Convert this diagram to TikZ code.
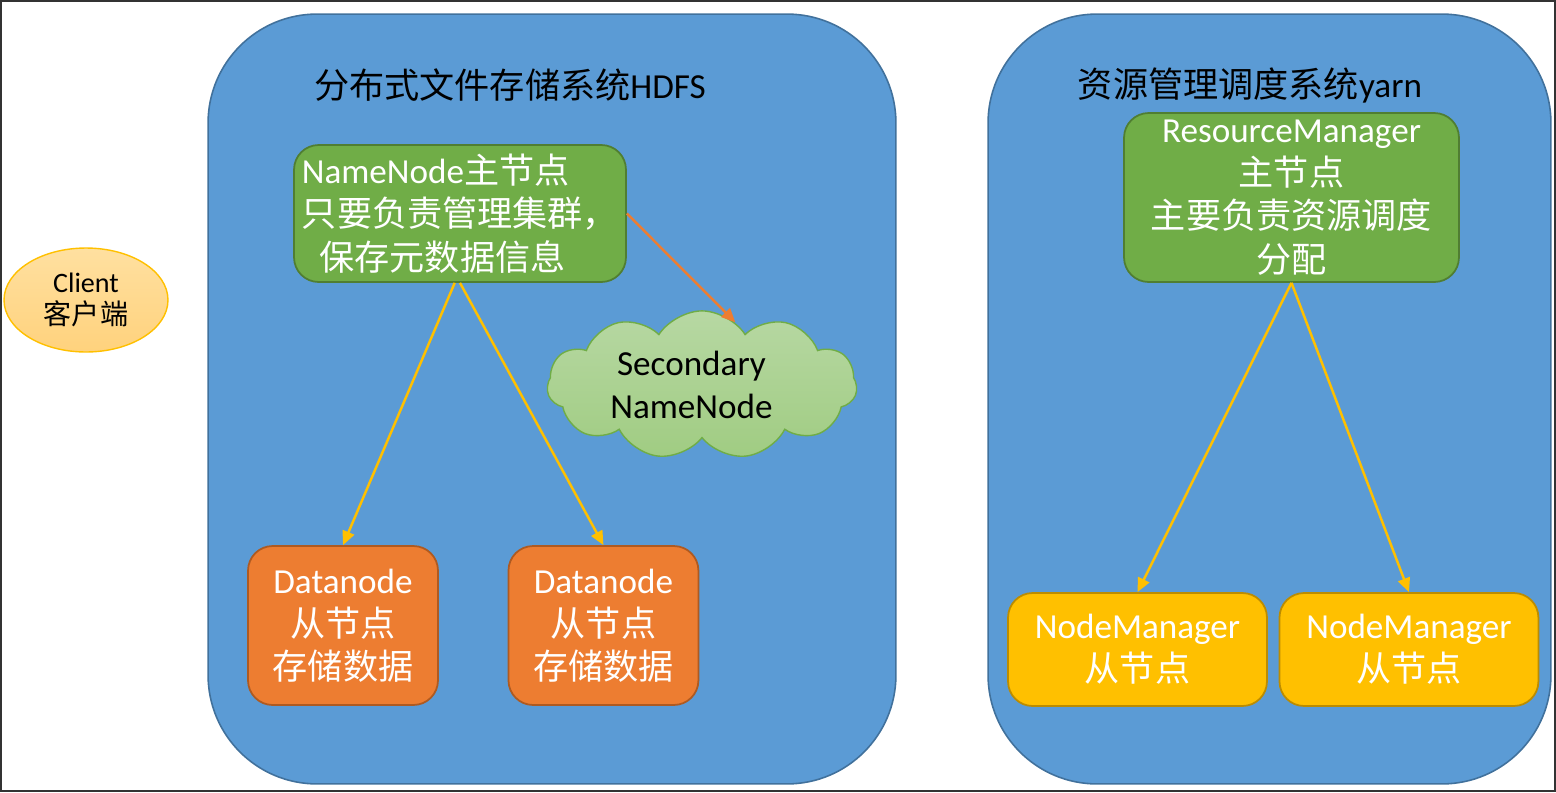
\documentclass[tikz,border=0pt]{standalone}
\usepackage{fontspec}
\setmainfont{Carlito}
\newfontfamily\cjk{Noto Sans CJK SC}
\usepackage{xcolor}
\definecolor{SysBlue}{RGB}{91,155,213}
\definecolor{SysBlueEdge}{RGB}{65,113,156}
\definecolor{MasterGreen}{RGB}{112,173,71}
\definecolor{MasterGreenEdge}{RGB}{80,126,50}
\definecolor{DataOrange}{RGB}{237,125,49}
\definecolor{DataOrangeEdge}{RGB}{174,90,33}
\definecolor{NodeGold}{RGB}{255,192,0}
\definecolor{NodeGoldEdge}{RGB}{188,140,0}
\definecolor{CloudTop}{RGB}{183,216,163}
\definecolor{CloudBottom}{RGB}{160,204,130}
\definecolor{ClientTop}{RGB}{255,224,160}
\definecolor{ClientBottom}{RGB}{255,210,125}
\usetikzlibrary{positioning}
\usetikzlibrary{shapes.geometric}
\usetikzlibrary{shapes.symbols}
\usetikzlibrary{arrows.meta}

\begin{document}
\begin{tikzpicture}[
      , x=0.02cm, y=-0.02cm
      , system/.style={rectangle, rounded corners=62pt, draw=SysBlueEdge, fill=SysBlue, line width=0.9pt, minimum height=15.4cm}
      , box/.style={rectangle, rounded corners=14pt, line width=1pt, text=white, inner sep=0pt, font=\fontsize{20}{24.6}\selectfont}
      , master/.style={box, draw=MasterGreenEdge, fill=MasterGreen}
      , datanode/.style={box, draw=DataOrangeEdge, fill=DataOrange, minimum width=3.8cm, minimum height=3.18cm, align=center}
      , nodemgr/.style={box, draw=NodeGoldEdge, fill=NodeGold, minimum width=5.18cm, minimum height=2.26cm, align=center}
      , title/.style={font=\fontsize{20}{24.6}\selectfont, text=black}
      , link/.style={->, line width=1.4pt, color=NodeGold}
      , on grid
      ]

      \tikzset{>={Triangle[length=8pt,width=7pt]}}

      \useasboundingbox (0,0) rectangle (1556,792);
      \draw[gray!40!black, line width=1.2pt] (1,1) rectangle (1555,791);

      % the two systems
      \node[system, minimum width=13.76cm] (hdfs) at (552,399) {};
      \node[system, minimum width=11.26cm] (yarn) at (1269.5,399) {};
      \node[title] (hdfs-title) at (510,85) {{\cjk 分布式文件存储系统}HDFS};
      \node[title] (yarn-title) at (1250,85) {{\cjk 资源管理调度系统}yarn};

      \node[ellipse, draw=NodeGold, line width=0.8pt, top color=ClientTop, bottom color=ClientBottom,
            minimum width=3.28cm, minimum height=2.08cm, inner sep=0pt, align=center,
            font=\fontsize{16}{18.7}\selectfont] (client) at (86,300) {Client\\{\cjk 客户端}};

      % hdfs
      \node[master, minimum width=6.64cm, minimum height=2.74cm, align=left] (nn) at (460,213.5)
            {NameNode{\cjk 主节点}\\{\cjk 只要负责管理集群，}\\\hspace*{0.5em}{\cjk 保存元数据信息}};
      \node[cloud, cloud puffs=11, cloud puff arc=115, aspect=2.3, draw=MasterGreen, line width=0.8pt,
            top color=CloudTop, bottom color=CloudBottom, minimum width=6.2cm, minimum height=2.8cm,
            inner sep=0pt, align=center, font=\fontsize{20}{24.6}\selectfont] (snn) at (702,385)
            {Secondary\hspace*{0.6em}\\NameNode\hspace*{0.6em}};
      \node[datanode] (dn1) at (343,625.5) {Datanode\\{\cjk 从节点}\\{\cjk 存储数据}};
      \node[datanode, right = 5.21cm of dn1] (dn2) {Datanode\\{\cjk 从节点}\\{\cjk 存储数据}};

      % yarn
      \node[master, minimum width=6.7cm, minimum height=3.38cm, align=center] (rm) at (1291.5,197.5)
            {ResourceManager\\{\cjk 主节点}\\{\cjk 主要负责资源调度}\\{\cjk 分配}};
      \node[nodemgr] (nm1) at (1137.5,649.5) {NodeManager\\{\cjk 从节点}};
      \node[nodemgr, right = 5.43cm of nm1] (nm2) {NodeManager\\{\cjk 从节点}};

      \draw[->, line width=1.4pt, color=DataOrange] (nn.east) -- (snn.62);
      \draw[link] ([xshift=-3pt]nn.south) -- (dn1.north);
      \draw[link] (nn.south) -- (dn2.north);
      \draw[link] (rm.south) -- (nm1.north);
      \draw[link] (rm.south) -- (nm2.north);
    \end{tikzpicture}
\end{document}
